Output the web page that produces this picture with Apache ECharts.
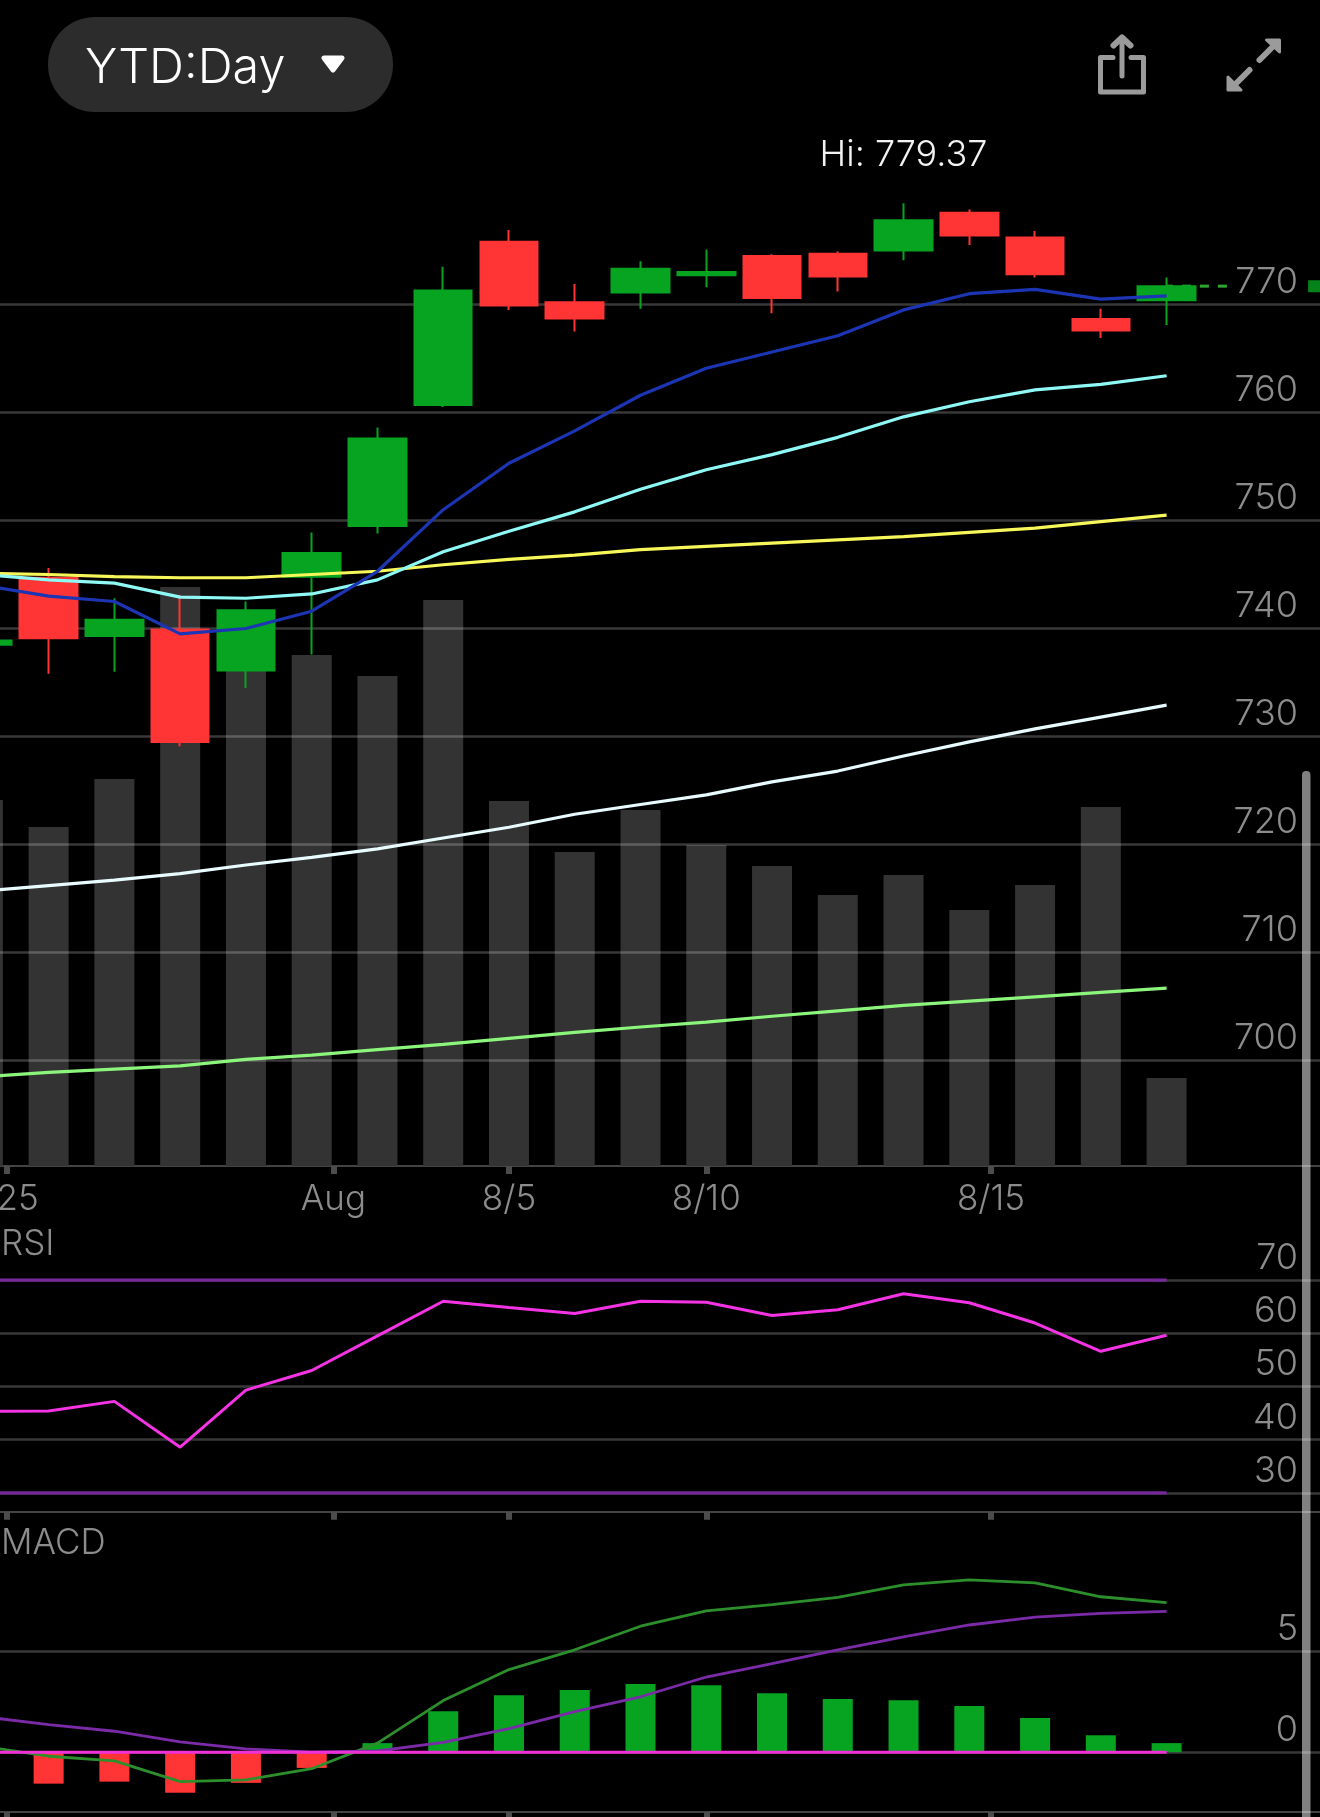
<!DOCTYPE html>
<html>
<head>
<meta charset="utf-8">
<style>html,body{margin:0;padding:0;background:#000}#c{width:1320px;height:1817px}</style>
<script src="https://cdn.jsdelivr.net/npm/echarts@6/dist/echarts.min.js"></script>
</head>
<body>
<div id="c"></div>
<script>
const sessions = ['s0','s1','s2','s3','s4','s5','s6','s7','s8','s9','s10','s11','s12','s13','s14','s15','s16','s17','s18','s19','s20'];
// open, close, low, high
const candles = [
 [738.5,738.9,738.3,739.1],[744.7,739.1,735.8,745.6],[739.3,740.8,736.0,742.8],[739.9,729.5,729.1,743.1],
 [736.1,741.7,734.5,742.5],[744.8,747.0,737.6,748.9],[749.5,757.6,748.8,758.6],[760.7,771.3,760.5,773.5],
 [775.8,769.9,769.5,776.9],[770.2,768.7,767.5,771.9],[771.1,773.3,769.6,774.0],[772.7,773.0,771.6,775.1],
 [774.5,770.6,769.2,774.65],[774.7,772.6,771.2,774.9],[775.0,777.8,774.1,779.37],[778.5,776.4,775.5,778.8],
 [776.2,772.8,772.5,776.8],[768.65,767.6,766.9,769.6],[770.4,771.7,768.1,772.5]
];
const volume = [3.66,3.39,3.87,5.79,5.42,5.11,4.90,5.66,3.65,3.14,3.56,3.21,3.00,2.71,2.91,2.56,2.81,3.59,0.88];
const maBlue = [744.0,743.0,742.5,739.5,740.0,741.6,745.3,751.0,755.3,758.3,761.6,764.1,765.6,767.1,769.5,771.0,771.4,770.5,770.8];
const maCyan = [745.0,744.5,744.2,742.9,742.8,743.2,744.5,747.1,749.0,750.8,752.9,754.7,756.1,757.7,759.6,761.0,762.1,762.6,763.4];
const maYellow = [745.1,745.0,744.8,744.7,744.7,745.0,745.3,745.9,746.4,746.8,747.3,747.6,747.9,748.2,748.5,748.9,749.3,749.9,750.5];
const maWhite = [715.7,716.2,716.7,717.3,718.1,718.8,719.6,720.6,721.6,722.8,723.7,724.6,725.8,726.8,728.2,729.5,730.7,731.8,732.9];
const maGreen = [698.5,698.9,699.2,699.5,700.1,700.5,701.0,701.5,702.05,702.6,703.1,703.55,704.1,704.6,705.1,705.5,705.9,706.3,706.7];
const rsi = [45.3,45.4,47.2,38.6,49.3,53.0,59.5,66.0,64.8,63.7,66.0,65.8,63.3,64.4,67.4,65.7,61.9,56.6,59.6];
const rsiUpper = [70,70,70,70,70,70,70,70,70,70,70,70,70,70,70,70,70,70,70];
const rsiLower = [30,30,30,30,30,30,30,30,30,30,30,30,30,30,30,30,30,30,30];
const macdLine = [0.29,-0.2,-0.43,-1.46,-1.37,-0.82,0.45,2.56,4.1,5.08,6.25,7.01,7.32,7.68,8.3,8.55,8.4,7.71,7.42];
const macdSignal = [1.76,1.37,1.04,0.51,0.16,0,0.06,0.49,1.17,2.01,2.75,3.73,4.39,5.08,5.72,6.31,6.7,6.89,6.99];
const macdHist = [null,-1.56,-1.46,-2.01,-1.52,-0.78,0.45,2.03,2.83,3.09,3.38,3.32,2.93,2.64,2.58,2.29,1.70,0.84,0.45];
const macdZero = [0,0,0,0,0,0,0,0,0,0,0,0,0,0,0,0,0,0,0];
const lastPrice = 771.7;
const lastLine = [[18,771.7],[19,771.7]];
const hiValue = 779.37;
const hiIndex = 14;
const tickPositions = [0.36,5.33,8,11,15.33];
const labelPositions = [0.53,5.33,8,11,15.33];
const tickLabels = ['25','Aug','8/5','8/10','8/15'];

const FONT = 'Inter, "Liberation Sans", sans-serif';
const GREY = '#8c8c8c', GRID = '#434343', UP = '#06a420', DOWN = '#ff3535';
const L = -50, W = 1381;
const G = {left:L,width:W,outerBoundsMode:'none'};

const grids = [
 {...G,top:196.5,height:972},
 {...G,top:166,height:1000},
 {...G,top:1279.9,height:213.1},
 {...G,top:1550.6,height:302.4},
 {...G,top:1100,height:66},
 {...G,top:1450,height:61.7},
 {...G,top:1750,height:62}
];
const cat = i => ({type:'category',gridIndex:i,data:sessions,show:false,boundaryGap:true});
const tickAxis = (i,lbl) => ({
  type:'value',gridIndex:i,min:-0.5,max:20.5,splitLine:{show:false},
  axisLine:{show:true,onZero:false,lineStyle:{color:GRID,width:2}},
  axisTick:{show:true,customValues:tickPositions,length:8,lineStyle:{color:'#4c4c4c',width:6}},
  axisLabel:{show:lbl,customValues:labelPositions,margin:16,color:GREY,fontFamily:FONT,fontSize:35,fontWeight:300,
    formatter:v=>{const k=labelPositions.indexOf(v);return k<0?'':tickLabels[k];}}
});
const priceY = (gi,min,max,interval) => ({
  type:'value',gridIndex:gi,position:'right',min,max,interval,z:2,scale:false,
  axisLine:{show:false},axisTick:{show:false},
  splitLine:{show:true,showMinLine:gi===2,showMaxLine:gi===2,lineStyle:{color:'rgba(255,255,255,0.22)',width:2.5}},
  axisLabel:{show:true,inside:true,margin:33,color:GREY,fontFamily:FONT,fontSize:36,fontWeight:300,
    verticalAlign:'bottom',padding:[0,0,4,0],showMinLabel:gi===2,showMaxLabel:gi===2}
});
const hiddenY = i => ({type:'value',gridIndex:i,show:false,min:0,max:10});
const line = (name,data,color,width,xi,yi,z) => ({
  name,type:'line',data,xAxisIndex:xi,yAxisIndex:yi,showSymbol:false,smooth:false,silent:true,z:z||4,clip:true,
  lineStyle:{color,width},itemStyle:{color}
});

const option = {
  animation:false,backgroundColor:'#000',
  grid:grids,
  xAxis:[cat(0),cat(1),cat(2),cat(3),tickAxis(4,true),tickAxis(5,false),tickAxis(6,false)],
  yAxis:[priceY(0,690,780,10),hiddenY(1),priceY(2,30,70,10),priceY(3,-5,10,5),
         {type:'value',gridIndex:4,show:false},{type:'value',gridIndex:5,show:false},{type:'value',gridIndex:6,show:false}],
  series:[
    {name:'Volume',type:'bar',data:volume,xAxisIndex:1,yAxisIndex:1,barWidth:40,z:1,silent:true,itemStyle:{color:'#333333'}},
    {name:'Last price',type:'line',data:lastLine,xAxisIndex:0,yAxisIndex:0,showSymbol:false,silent:true,z:2,
      lineStyle:{color:'#2fa52f',type:[9,9],dashOffset:2.7,width:3}},
    {name:'Price',type:'candlestick',data:candles,xAxisIndex:0,yAxisIndex:0,barWidth:58,z:3,silent:true,
      itemStyle:{color:UP,color0:DOWN,borderColor:UP,borderColor0:DOWN,borderWidth:2},
      markPoint:{silent:true,symbol:'circle',symbolSize:0,animation:false,
        data:[{coord:[hiIndex,hiValue],value:hiValue}],
        label:{show:true,position:'inside',offset:[0,-48],color:'#f2f2f2',fontFamily:FONT,fontSize:36,fontWeight:300,
          formatter:p=>'Hi: '+p.value.toFixed(2)}}},
    {name:'Last',type:'scatter',data:[[20,lastPrice]],xAxisIndex:0,yAxisIndex:0,symbol:'rect',symbolSize:[46,12],symbolOffset:[33,0],z:3,silent:true,itemStyle:{color:UP}},
    line('MA green',maGreen,'#8cf57c',3.2,0,0),
    line('MA white',maWhite,'#e8fbff',3.2,0,0),
    line('MA yellow',maYellow,'#f7f75a',3.2,0,0),
    line('MA cyan',maCyan,'#8ffaf5',3.2,0,0),
    line('MA blue',maBlue,'#1c35b4',3.2,0,0),
    line('RSI upper',rsiUpper,'#74289a',3.5,2,2),
    line('RSI lower',rsiLower,'#74289a',3.5,2,2),
    line('RSI',rsi,'#f434e4',3,2,2),
    {name:'MACD hist',type:'bar',xAxisIndex:3,yAxisIndex:3,barWidth:30,z:3,silent:true,
      data:macdHist.map(v=>v===null?null:{value:v,itemStyle:{color:v<0?DOWN:UP}})},
    line('MACD line',macdLine,'#2c8f2c',2.8,3,3),
    line('MACD signal',macdSignal,'#7b2aa8',2.8,3,3),
    line('MACD zero',macdZero,'#f030d8',3,3,3,5)
  ],
  graphic:{elements:[
    {type:'rect',z:20,shape:{x:48,y:17,width:345,height:95,r:47},style:{fill:'#2c2c2c'}},
    {type:'text',z:21,x:85,y:68,style:{text:'YTD:Day',fill:'#fff',fontFamily:FONT,fontSize:48.5,fontWeight:300,verticalAlign:'middle'}},
    {type:'polygon',z:21,shape:{points:[[324,58],[342,58],[333,70]]},style:{fill:'#fff',stroke:'#fff',lineWidth:5,lineJoin:'round'}},
    {type:'polyline',z:21,shape:{points:[[1113,57.5],[1100.5,57.5],[1100.5,92],[1143.5,92],[1143.5,57.5],[1131,57.5]]},style:{fill:null,stroke:'#9b9b9b',lineWidth:5,lineJoin:'round',lineCap:'round'}},
    {type:'polyline',z:21,shape:{points:[[1122,76],[1122,40]]},style:{fill:null,stroke:'#9b9b9b',lineWidth:5,lineCap:'round'}},
    {type:'polyline',z:21,shape:{points:[[1113.5,45.5],[1122,37.5],[1130.5,45.5]]},style:{fill:null,stroke:'#9b9b9b',lineWidth:6,lineCap:'round',lineJoin:'round'}},
    {type:'polyline',z:21,shape:{points:[[1259.5,60],[1272,47.5]]},style:{fill:null,stroke:'#9b9b9b',lineWidth:6,lineCap:'round'}},
    {type:'polygon',z:21,shape:{points:[[1266.5,40],[1279.5,40],[1279.5,52]]},style:{fill:'#9b9b9b',stroke:'#9b9b9b',lineWidth:3,lineJoin:'round'}},
    {type:'polyline',z:21,shape:{points:[[1249.5,70],[1237,82.5]]},style:{fill:null,stroke:'#9b9b9b',lineWidth:6,lineCap:'round'}},
    {type:'polygon',z:21,shape:{points:[[1228,77],[1228,90],[1241,90]]},style:{fill:'#9b9b9b',stroke:'#9b9b9b',lineWidth:3,lineJoin:'round'}},
    {type:'text',z:21,x:1,y:1244,style:{text:'RSI',fill:GREY,fontFamily:FONT,fontSize:35,fontWeight:300,verticalAlign:'middle'}},
    {type:'text',z:21,x:1,y:1543,style:{text:'MACD',fill:GREY,fontFamily:FONT,fontSize:35,fontWeight:300,verticalAlign:'middle'}},
    {type:'rect',z:22,shape:{x:1302,y:771,width:8.5,height:1060,r:4},style:{fill:'rgba(255,255,255,0.5)'}}
  ]}
};
const chart = echarts.init(document.getElementById('c'),null,{renderer:'canvas',width:1320,height:1817});
chart.setOption(option);
</script>
</body>
</html>
